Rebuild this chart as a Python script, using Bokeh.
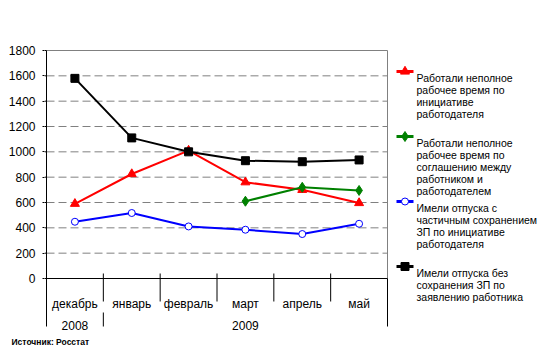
from bokeh.plotting import figure
from bokeh.models import Range1d, FixedTicker, Title
from bokeh.core.properties import value
from bokeh.embed import file_html
from bokeh.resources import INLINE

# ---------------- data ----------------
months = ["декабрь", "январь", "февраль", "март", "апрель", "май"]
years = ["2008", "2009", "2009", "2009", "2009", "2009"]
red_vals = [590, 825, 1010, 760, 700, 596]
green_vals = [None, None, None, 610, 720, 695]
blue_vals = [448, 517, 411, 385, 351, 432]
black_vals = [1580, 1110, 1000, 930, 922, 936]
y_ticks = [0, 200, 400, 600, 800, 1000, 1200, 1400, 1600, 1800]
labels = [
    ["Работали неполное", "рабочее время по", "инициативе", "работодателя"],
    ["Работали неполное", "рабочее время по", "соглашению между", "работником и", "работодателем"],
    ["Имели отпуска с", "частичным сохранением", "ЗП по инициативе", "работодателя"],
    ["Имели отпуска без", "сохранения ЗП по", "заявлению работника"],
]
source_text = "Источник: Росстат"

FONT = "Liberation Sans, Arial, sans-serif"

# ---------------- layout (pixels of the reference) ----------------
W, H = 541, 354
AX_LEFT, AX_RIGHT, AX_TOP, ZERO_PX = 46, 387, 50, 278   # plot area
F_LEFT, F_RIGHT, F_TOP, F_BOTTOM = 44, 541, 48, 334     # drawing frame
n = len(months)
c = (AX_RIGHT - AX_LEFT) / n                 # px per category
k = (ZERO_PX - AX_TOP) / y_ticks[-1]         # px per unit


def ypx(px):
    return (ZERO_PX - px) / k


def xpx(px):
    return (px - AX_LEFT) / c


xc = [i + 0.5 for i in range(n)]

p = figure(width=W, height=H, output_backend="svg", toolbar_location=None,
           x_range=Range1d(xpx(F_LEFT), xpx(F_RIGHT)),
           y_range=Range1d(ypx(F_BOTTOM), ypx(F_TOP)),
           x_axis_type=None, min_border_left=F_LEFT, min_border_right=W - F_RIGHT,
           min_border_top=F_TOP, min_border_bottom=H - F_BOTTOM)
p.outline_line_color = None
p.background_fill_color = "white"
p.border_fill_color = "white"
p.ygrid.visible = False

ax = p.yaxis[0]
ax.ticker = FixedTicker(ticks=y_ticks)
ax.major_tick_out = 4 - (AX_LEFT - F_LEFT)
ax.major_tick_in = 0
ax.minor_tick_out = 0
ax.minor_tick_in = 0
ax.axis_line_color = None
ax.major_tick_line_color = "black"
ax.major_label_text_font = FONT
ax.major_label_text_font_size = "12px"
ax.major_label_text_color = "black"
ax.major_label_standoff = 6 + (AX_LEFT - F_LEFT) // 2

# dashed grid lines and top border
gy = y_ticks[1:-1]
p.segment(x0=[0] * len(gy), y0=gy, x1=[n] * len(gy), y1=gy,
          line_color="#808080", line_width=1, line_dash="8 4")
p.segment(x0=[0], y0=[y_ticks[-1]], x1=[n], y1=[y_ticks[-1]], line_color="#808080", line_width=1)
# right border
p.segment(x0=[n], y0=[0], x1=[n], y1=[y_ticks[-1]], line_color="#808080", line_width=1)
# y-axis line (runs down through the category area) and right edge below axis
p.segment(x0=[0, n], y0=[ypx(326)] * 2, x1=[0, n], y1=[y_ticks[-1], 0],
          line_color="black", line_width=1)
# tick stubs between frame edge and axis line
p.segment(x0=[xpx(F_LEFT)] * len(y_ticks), y0=y_ticks, x1=[0] * len(y_ticks), y1=y_ticks,
          line_color="black", line_width=1)
# x axis line
p.segment(x0=[0], y0=[0], x1=[n], y1=[0], line_color="black", line_width=1)
# month separators
seps = list(range(1, n))
p.segment(x0=seps, y0=[ypx(273)] * len(seps), x1=seps, y1=[ypx(301)] * len(seps),
          line_color="black", line_width=1)
# year separators
year_bounds = [i for i in range(1, n) if years[i] != years[i - 1]]
p.segment(x0=year_bounds, y0=[ypx(312)] * len(year_bounds), x1=year_bounds,
          y1=[ypx(326)] * len(year_bounds), line_color="black", line_width=1)

# ---------------- series ----------------
styles = [
    (red_vals, "#FF0000", "triangle", 9, "#FF0000"),
    (green_vals, "#008000", "diamond", 10, "#008000"),
    (blue_vals, "#0000FF", "circle", 7, "white"),
    (black_vals, "#000000", "square", 8, "#000000"),
]
for vals, color, marker, size, fill in styles:
    xs = [x for x, v in zip(xc, vals) if v is not None]
    ys = [v for v in vals if v is not None]
    p.line(xs, ys, line_color=color, line_width=2)
    p.scatter(xs, ys, marker=marker, size=size, line_color=color, fill_color=fill)

# ---------------- legend (drawn beside the plot area) ----------------
LEG_X0, LEG_X1, LEG_TXT = 396, 413, 416
leg_y = [71, 136, 201, 266]
LINE_H = 12
for (vals, color, marker, size, fill), lines, gy0 in zip(styles, labels, leg_y):
    p.segment(x0=[xpx(LEG_X0)], y0=[ypx(gy0)], x1=[xpx(LEG_X1)], y1=[ypx(gy0)],
              line_color=color, line_width=3)
    p.scatter([xpx((LEG_X0 + LEG_X1) / 2)], [ypx(gy0)], marker=marker, size=size,
              line_color=color, fill_color=fill)
    ty = [ypx(gy0 + 6.5 + i * LINE_H) for i in range(len(lines))]
    p.text(x=[xpx(LEG_TXT)] * len(lines), y=ty, text=lines, text_align="left",
           text_baseline="middle", text_font=value(FONT), text_font_size="10.5px",
           text_color="black")

# ---------------- category labels ----------------
p.text(x=xc, y=[ypx(303)] * n, text=months, text_align="center", text_baseline="middle",
       text_font=value(FONT), text_font_size="12px", text_color="black")
uy = []
for yv in years:
    if yv not in uy:
        uy.append(yv)
ycent = []
for yv in uy:
    idx = [i for i, v in enumerate(years) if v == yv]
    ycent.append((min(idx) + max(idx) + 1) / 2)
p.text(x=ycent, y=[ypx(325)] * len(uy), text=uy, text_align="center", text_baseline="middle",
       text_font=value(FONT), text_font_size="12px", text_color="black")

p.add_layout(Title(text=source_text, align="left", offset=11 - F_LEFT,
                   text_font=FONT, text_font_size="8.5px", text_font_style="bold",
                   text_color="black", standoff=0), "below")

open("out.html", "w").write(file_html(p, INLINE))
